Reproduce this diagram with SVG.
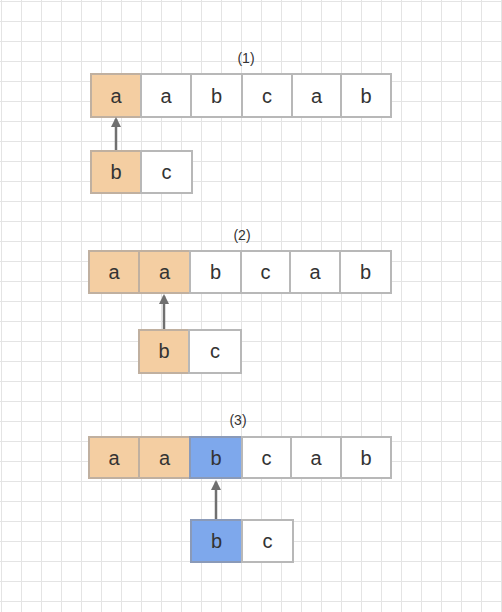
<svg xmlns="http://www.w3.org/2000/svg" width="502" height="612" viewBox="0 0 502 612">
<defs>
<pattern id="grid" x="1" y="1" width="20" height="20" patternUnits="userSpaceOnUse">
<path d="M0 0H20M0 0V20" fill="none" stroke="#e4e4e4" stroke-width="2"/>
</pattern>
<marker id="arr" viewBox="0 0 10 10" refX="8" refY="5" markerWidth="4" markerHeight="4" orient="auto">
<path d="M0 0L10 5L0 10z" fill="#6f6f6f"/>
</marker>
</defs>
<style>
.c{stroke:#b8b8b8;stroke-width:2}
.w{fill:#fff}
.o{fill:#f4cea2;stroke:#c0b0a0}
.b{fill:#7ea8ec;stroke:#8a9ab8}
.t{font-family:"Liberation Sans",Arial,sans-serif;font-size:20px;fill:#333;text-anchor:middle}
.l{font-family:"Liberation Sans",Arial,sans-serif;font-size:14px;fill:#333;text-anchor:middle}
.e{stroke:#707070;stroke-width:2.5;fill:none;marker-end:url(#arr)}
</style>
<rect width="502" height="612" fill="#fff"/>
<rect width="502" height="612" fill="url(#grid)"/>

<text class="l" x="246" y="63">(1)</text>
<g id="s1">
<g id="s1-0"><rect class="c o" x="91" y="74" width="50" height="43"/><text class="t" x="116" y="103">a</text></g>
<g id="s1-1"><rect class="c w" x="141" y="74" width="50" height="43"/><text class="t" x="166" y="103">a</text></g>
<g id="s1-2"><rect class="c w" x="191" y="74" width="51" height="43"/><text class="t" x="216.5" y="103">b</text></g>
<g id="s1-3"><rect class="c w" x="242" y="74" width="50" height="43"/><text class="t" x="267" y="103">c</text></g>
<g id="s1-4"><rect class="c w" x="292" y="74" width="49" height="43"/><text class="t" x="316.5" y="103">a</text></g>
<g id="s1-5"><rect class="c w" x="341" y="74" width="50" height="43"/><text class="t" x="366" y="103">b</text></g>
</g>
<g id="p1">
<g id="p1-0"><rect class="c o" x="91" y="151" width="50" height="42"/><text class="t" x="116" y="179">b</text></g>
<g id="p1-1"><rect class="c w" x="141" y="151" width="51" height="42"/><text class="t" x="166.5" y="179">c</text></g>
</g>

<text class="l" x="242" y="240">(2)</text>
<g id="s2">
<g id="s2-0"><rect class="c o" x="89" y="251" width="50" height="42"/><text class="t" x="114" y="279">a</text></g>
<g id="s2-1"><rect class="c o" x="139" y="251" width="51" height="42"/><text class="t" x="164.5" y="279">a</text></g>
<g id="s2-2"><rect class="c w" x="190" y="251" width="51" height="42"/><text class="t" x="215.5" y="279">b</text></g>
<g id="s2-3"><rect class="c w" x="241" y="251" width="49" height="42"/><text class="t" x="265.5" y="279">c</text></g>
<g id="s2-4"><rect class="c w" x="290" y="251" width="50" height="42"/><text class="t" x="315" y="279">a</text></g>
<g id="s2-5"><rect class="c w" x="340" y="251" width="51" height="42"/><text class="t" x="365.5" y="279">b</text></g>
</g>
<g id="p2">
<g id="p2-0"><rect class="c o" x="139" y="330" width="50" height="43"/><text class="t" x="164" y="358">b</text></g>
<g id="p2-1"><rect class="c w" x="189" y="330" width="52" height="43"/><text class="t" x="215" y="358">c</text></g>
</g>

<text class="l" x="238" y="425">(3)</text>
<g id="s3">
<g id="s3-0"><rect class="c o" x="89" y="437" width="50" height="41"/><text class="t" x="114" y="465">a</text></g>
<g id="s3-1"><rect class="c o" x="139" y="437" width="51" height="41"/><text class="t" x="164.5" y="465">a</text></g>
<g id="s3-2"><rect class="c b" x="190" y="437" width="52" height="41"/><text class="t" x="216" y="465">b</text></g>
<g id="s3-3"><rect class="c w" x="242" y="437" width="49" height="41"/><text class="t" x="266.5" y="465">c</text></g>
<g id="s3-4"><rect class="c w" x="291" y="437" width="50" height="41"/><text class="t" x="316" y="465">a</text></g>
<g id="s3-5"><rect class="c w" x="341" y="437" width="50" height="41"/><text class="t" x="366" y="465">b</text></g>
</g>
<g id="p3">
<g id="p3-0"><rect class="c b" x="191" y="520" width="51" height="42"/><text class="t" x="216.5" y="548">b</text></g>
<g id="p3-1"><rect class="c w" x="242" y="520" width="51" height="42"/><text class="t" x="267.5" y="548">c</text></g>
</g>

<g id="connectors">
<line class="e" x1="116" y1="150" x2="116" y2="119"/>
<line class="e" x1="164" y1="329" x2="164" y2="296"/>
<line class="e" x1="216" y1="519" x2="216" y2="482"/>
</g>
</svg>
